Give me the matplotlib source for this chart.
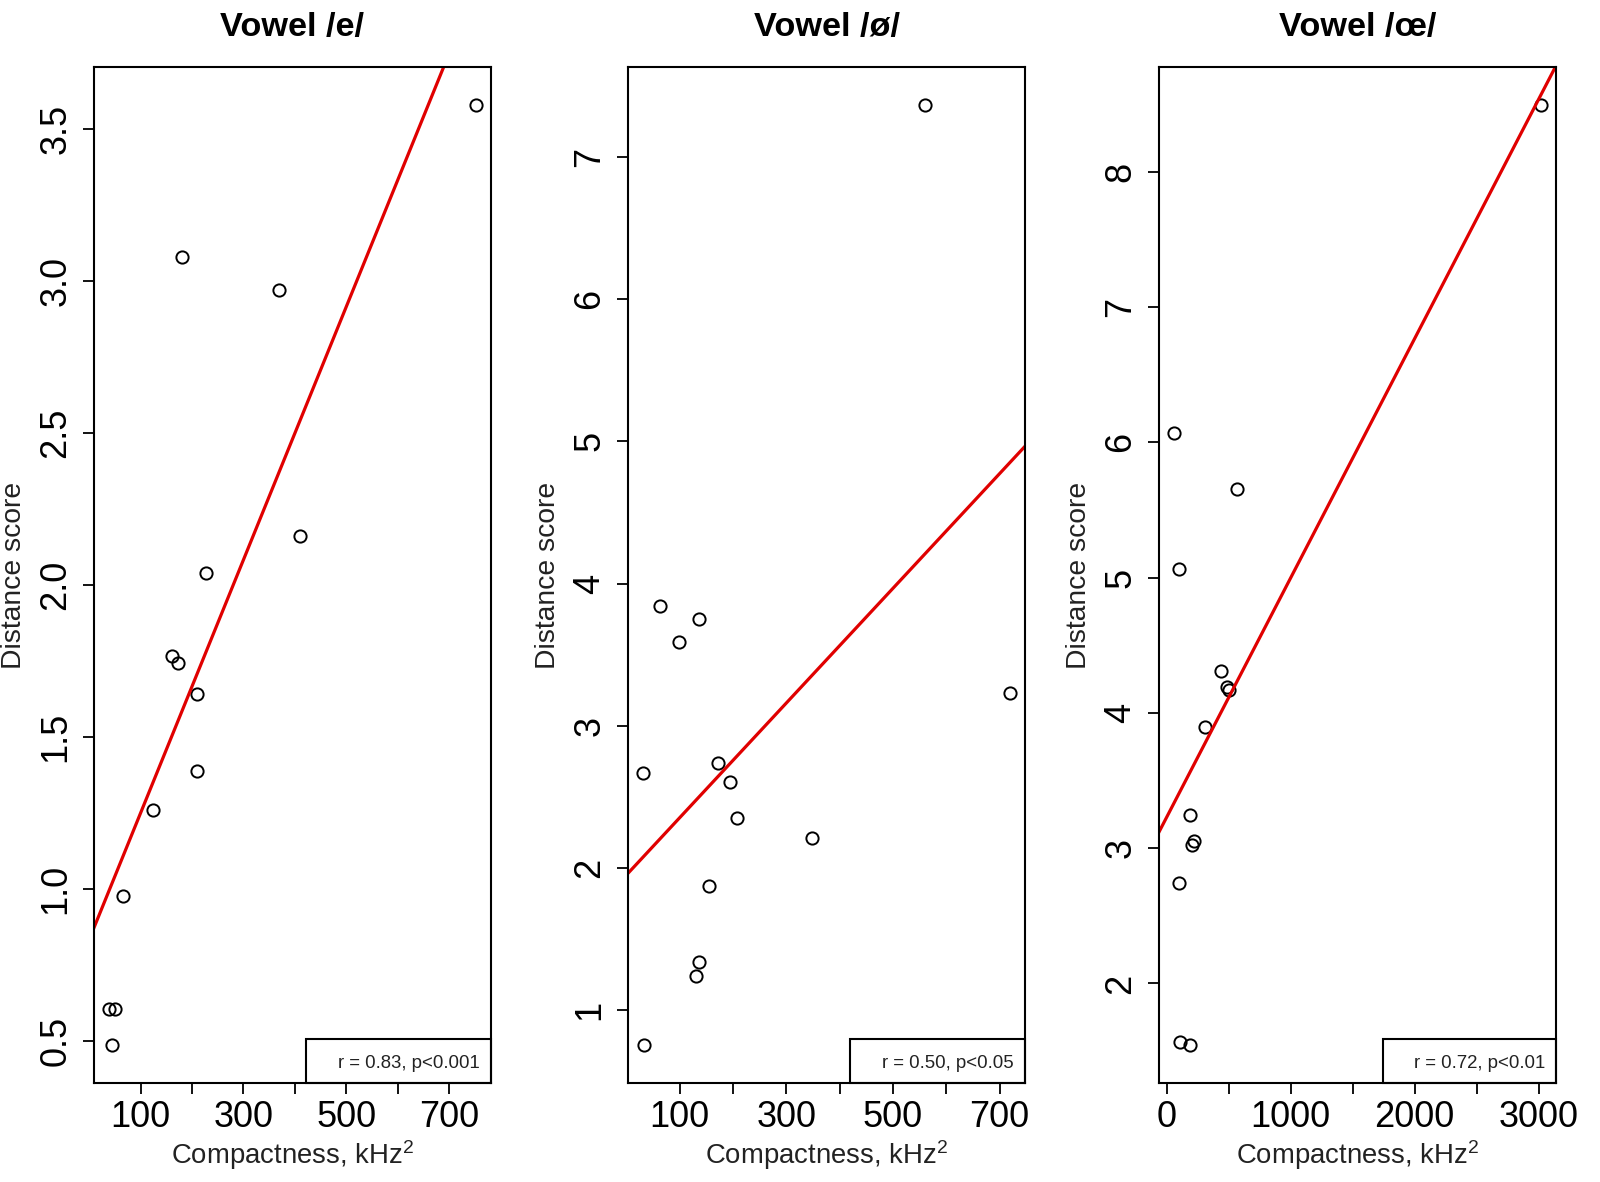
import matplotlib
matplotlib.use("Agg")
import matplotlib.pyplot as plt
from matplotlib.patches import Rectangle

plt.rcParams['font.family'] = ['Liberation Sans', 'DejaVu Sans']
plt.rcParams['mathtext.fontset'] = 'custom'
plt.rcParams['mathtext.rm'] = 'Liberation Sans'
plt.rcParams['mathtext.it'] = 'Liberation Sans:italic'

# vowel /e/
e_comp = [753, 180, 370, 411, 227, 162, 173, 210, 210, 125, 65, 38, 51, 45]
e_dist = [3.58, 3.08, 2.97, 2.16, 2.04, 1.765, 1.745, 1.64, 1.39, 1.26, 0.976, 0.607, 0.607, 0.486]
# vowel /ø/
o_comp = [560, 63, 136, 99, 720, 31, 172, 194, 208, 349, 155, 136, 131, 33]
o_dist = [7.37, 3.84, 3.75, 3.59, 3.23, 2.67, 2.74, 2.60, 2.35, 2.21, 1.87, 1.34, 1.24, 0.75]
# vowel /œ/
oe_comp = [3020, 58, 569, 102, 438, 490, 505, 308, 189, 205, 222, 99, 110, 189]
oe_dist = [8.495, 6.067, 5.654, 5.061, 4.31, 4.19, 4.17, 3.896, 3.241, 3.02, 3.05, 2.74, 1.567, 1.542]

# regression lines (intercept, slope)
e_fit = (0.834, 0.004162)
o_fit = (1.947, 0.004038)
oe_fit = (3.226, 0.0017704)

titles = ["Vowel /e/", "Vowel /ø/", "Vowel /œ/"]
stats = ["r = 0.83, p<0.001", "r = 0.50, p<0.05", "r = 0.72, p<0.01"]

e_xticks = [100, 200, 300, 400, 500, 600, 700]
e_xlabels = ["100", "", "300", "", "500", "", "700"]
e_yticks = [0.5, 1.0, 1.5, 2.0, 2.5, 3.0, 3.5]
e_ylabels = ["0.5", "1.0", "1.5", "2.0", "2.5", "3.0", "3.5"]

o_xticks = [100, 200, 300, 400, 500, 600, 700]
o_xlabels = ["100", "", "300", "", "500", "", "700"]
o_yticks = [1, 2, 3, 4, 5, 6, 7]
o_ylabels = ["1", "2", "3", "4", "5", "6", "7"]

oe_xticks = [0, 500, 1000, 1500, 2000, 2500, 3000]
oe_xlabels = ["0", "", "1000", "", "2000", "", "3000"]
oe_yticks = [2, 3, 4, 5, 6, 7, 8]
oe_ylabels = ["2", "3", "4", "5", "6", "7", "8"]

panels = [
    (e_comp, e_dist, e_fit, e_xticks, e_xlabels, e_yticks, e_ylabels),
    (o_comp, o_dist, o_fit, o_xticks, o_xlabels, o_yticks, o_ylabels),
    (oe_comp, oe_dist, oe_fit, oe_xticks, oe_xlabels, oe_yticks, oe_ylabels),
]

W, H = 1600, 1182
fig = plt.figure(figsize=(W / 100, H / 100), dpi=100)

lefts = [94, 628, 1159]
box_left = [0.533, 0.56, 0.563]
ax_w, ax_h = 397, 1016
ax_bottom = H - 1083

for i, (x, y, fit, xt, xl, yt, yl) in enumerate(panels):
    ax = fig.add_axes([lefts[i] / W, ax_bottom / H, ax_w / W, ax_h / H])

    ax.plot(x, y, 'o', mfc='none', mec='black', ms=8.8, mew=1.4)
    ax.axline((0, fit[0]), slope=fit[1], color='#e00000', lw=2.3)

    # R-style 4% padding around the data
    xr = max(x) - min(x)
    yr = max(y) - min(y)
    ax.set_xlim(min(x) - 0.04 * xr, max(x) + 0.04 * xr)
    ax.set_ylim(min(y) - 0.04 * yr, max(y) + 0.04 * yr)

    ax.set_xticks(xt)
    ax.set_xticklabels(xl)
    ax.set_yticks(yt)
    ax.set_yticklabels(yl, rotation=90, va='center')
    ax.tick_params(direction='out', length=8, width=1.3, labelsize=26)
    ax.tick_params(axis='x', pad=4)
    ax.tick_params(axis='y', pad=7)
    for s in ax.spines.values():
        s.set_linewidth(1.5)

    ax.set_title(titles[i], fontsize=24.7, fontweight='bold', pad=22)
    ax.set_xlabel("Compactness, kHz$^2$", fontsize=19.8, color='#222222')
    ax.xaxis.label.set_va('baseline')
    ax.xaxis.set_label_coords(0.5, -81 / ax_h)
    ax.set_ylabel("Distance score", fontsize=20.3, color='#222222')
    ax.yaxis.label.set_va('center')
    ax.yaxis.set_label_coords(-80 / ax_w, 0.5)

    # stats box in bottom right corner
    bh = 0.043
    ax.add_patch(Rectangle((box_left[i], 0), 1 - box_left[i], bh,
                           transform=ax.transAxes, fill=False,
                           edgecolor='black', lw=1.5, clip_on=False, zorder=5))
    ax.text(1 - 11 / ax_w, bh / 2 - 0.002, stats[i], transform=ax.transAxes,
            ha='right', va='center', fontsize=13.4, color='#222222')

fig.savefig("out.png", dpi=100)
